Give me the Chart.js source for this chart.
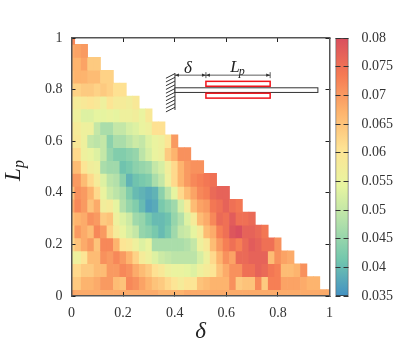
<!DOCTYPE html>
<html>
<head>
<meta charset="utf-8">
<script src="https://cdn.jsdelivr.net/npm/chart.js@4/dist/chart.umd.min.js"></script>
<style>
  html, body { margin: 0; background: #fff; }
  #wrap { position: relative; width: 415px; height: 364px; overflow: hidden; }
  canvas { position: absolute; top: 0; }
  #map { left: 0; }
  #bar { left: 330px; }
</style>
</head>
<body>
<div id="wrap">
  <canvas id="map" width="415" height="364"></canvas>
  <canvas id="bar" width="85" height="364"></canvas>
</div>
<script>
// ── DATA ───────────────────────────────────────────────────────
const FONT = "'Liberation Serif', serif";
const xTicks = [0, 0.2, 0.4, 0.6, 0.8, 1];
const yTicks = [0, 0.2, 0.4, 0.6, 0.8, 1];
const cbTicks = [0.035, 0.04, 0.045, 0.05, 0.055, 0.06, 0.065, 0.07, 0.075, 0.08];
const cbMin = 0.035, cbMax = 0.08;
const cellStep = 0.025;  // columns are delta = 0, 0.025, 0.05 ...

const lpRows = [1, 0.95, 0.9, 0.85, 0.8, 0.75, 0.7, 0.65, 0.6, 0.55, 0.5, 0.45, 0.4, 0.35, 0.3, 0.25, 0.2, 0.15, 0.1, 0.05, 0];

// one list per Lp row, first value at delta = 0
const row100 = [.072];
const row095 = [.068,.069,.070];
const row090 = [.067,.067,.069,.064,.064];
const row085 = [.066,.067,.067,.066,.066,.063,.063];
const row080 = [.063,.063,.064,.064,.063,.064,.063,.061,.061];
const row075 = [.059,.058,.059,.060,.059,.056,.060,.058,.058,.057,.059];
const row070 = [.056,.056,.053,.053,.054,.054,.055,.054,.056,.056,.057,.055,.059];
const row065 = [.059,.058,.056,.056,.050,.047,.047,.050,.050,.052,.053,.055,.056,.061,.061];
const row060 = [.059,.059,.056,.050,.049,.050,.044,.047,.047,.049,.051,.050,.053,.055,.056,.060,.070];
const row055 = [.062,.062,.056,.055,.053,.050,.045,.043,.043,.044,.045,.049,.052,.055,.056,.064,.067,.071,.071];
const row050 = [.066,.066,.060,.057,.056,.047,.046,.046,.041,.042,.044,.045,.046,.050,.052,.057,.062,.067,.070,.071,.071];
const row045 = [.070,.070,.066,.062,.058,.053,.049,.048,.044,.039,.041,.042,.043,.047,.050,.056,.062,.067,.070,.072,.073,.074,.075];
const row040 = [.065,.071,.070,.067,.062,.055,.051,.049,.047,.043,.040,.039,.038,.039,.044,.049,.054,.062,.066,.069,.072,.073,.076,.077,.077];
const row035 = [.068,.072,.070,.065,.068,.057,.058,.054,.048,.045,.043,.040,.037,.038,.042,.044,.046,.052,.058,.066,.069,.070,.074,.075,.077,.075,.074];
const row030 = [.065,.067,.068,.071,.070,.064,.065,.056,.053,.051,.046,.045,.042,.040,.040,.041,.045,.048,.053,.058,.066,.068,.072,.076,.075,.078,.075,.075,.076];
const row025 = [.063,.070,.068,.066,.072,.070,.063,.058,.055,.052,.050,.045,.044,.042,.040,.042,.046,.050,.051,.054,.058,.066,.068,.073,.075,.079,.080,.077,.077,.076,.074];
const row020 = [.062,.065,.068,.070,.065,.072,.072,.067,.060,.059,.056,.053,.055,.047,.047,.047,.047,.047,.048,.050,.056,.059,.066,.070,.073,.075,.073,.076,.078,.077,.075,.075,.071];
const row015 = [.056,.056,.060,.066,.066,.071,.070,.072,.070,.067,.063,.058,.056,.053,.051,.050,.049,.049,.049,.049,.052,.056,.062,.067,.071,.069,.076,.076,.077,.077,.077,.066,.071,.069,.068];
const row010 = [.062,.062,.064,.064,.066,.066,.070,.070,.072,.071,.068,.066,.064,.061,.059,.056,.055,.055,.054,.053,.056,.058,.060,.065,.068,.071,.071,.075,.075,.077,.076,.074,.073,.066,.066,.067,.071];
const row005 = [.064,.064,.067,.067,.068,.070,.070,.066,.065,.072,.071,.069,.067,.065,.064,.062,.060,.058,.060,.060,.065,.066,.067,.067,.067,.071,.064,.065,.065,.072,.064,.073,.073,.069,.069,.069,.068,.067,.067];
const row000 = [.069,.068,.068,.068,.068,.068,.068,.068,.068,.068,.068,.068,.068,.068,.067,.067,.067,.067,.068,.068,.068,.068,.068,.068,.068,.068,.068,.068,.068,.068,.068,.068,.068,.068,.068,.068,.068,.068,.068,.068,.068];

const cellRows = [row100, row095, row090, row085, row080, row075, row070, row065, row060, row055, row050,
  row045, row040, row035, row030, row025, row020, row015, row010, row005, row000];

// palette from cbMax down to cbMin
const paletteStops = ['#d94f5e', '#f57a53', '#fdb36d', '#fee394', '#e8f5a0', '#b2e0aa', '#73c7ad', '#4391c3'];

// ── COLOUR MAP ─────────────────────────────────────────────────
function hexRgb(h) {
  return [1, 3, 5].map(i => parseInt(h.slice(i, i + 2), 16));
}

function colorFor(v) {
  const t = Math.min(1, Math.max(0, (cbMax - v) / (cbMax - cbMin))) * (paletteStops.length - 1);
  const i = Math.min(paletteStops.length - 2, Math.floor(t));
  const a = hexRgb(paletteStops[i]), b = hexRgb(paletteStops[i + 1]);
  const f = t - i;
  return `rgb(${a.map((c, k) => Math.round(c + (b[k] - c) * f)).join(',')})`;
}

// ── INSET SKETCH (beam with patches), in axis units ────────────
const insetPlugin = {
  id: 'inset',
  afterDraw(chart) {
    const { ctx, scales } = chart;
    const X = v => scales.x.getPixelForValue(v);
    const Y = v => scales.y.getPixelForValue(v);
    const line = (x1, y1, x2, y2) => {
      ctx.beginPath(); ctx.moveTo(x1, y1); ctx.lineTo(x2, y2); ctx.stroke();
    };
    const wallX = 0.401, beamEnd = 0.955, patchA = 0.521, patchB = 0.77, dimY = 0.856;

    ctx.save();
    ctx.strokeStyle = '#333';
    ctx.lineWidth = 1;

    // wall and hatching
    line(X(wallX), Y(0.864), X(wallX), Y(0.721));
    for (let h = 0; h < 10; h++) {
      const hy = 0.862 - h * 0.0145;
      line(X(wallX), Y(hy), X(wallX - 0.035), Y(hy - 0.018));
    }

    // beam
    ctx.fillStyle = '#fff';
    ctx.fillRect(X(wallX), Y(0.807), X(beamEnd) - X(wallX), Y(0.789) - Y(0.807));
    ctx.strokeRect(X(wallX), Y(0.807), X(beamEnd) - X(wallX), Y(0.789) - Y(0.807));

    // patches
    ctx.strokeStyle = '#f0141c';
    ctx.lineWidth = 1.5;
    ctx.strokeRect(X(patchA), Y(0.832), X(patchB) - X(patchA), Y(0.813) - Y(0.832));
    ctx.strokeRect(X(patchA), Y(0.786), X(patchB) - X(patchA), Y(0.767) - Y(0.786));

    // dimension lines
    ctx.strokeStyle = '#333';
    ctx.fillStyle = '#333';
    ctx.lineWidth = 0.8;
    line(X(wallX), Y(dimY), X(patchB), Y(dimY));
    line(X(patchA), Y(dimY) - 3, X(patchA), Y(dimY) + 3);
    line(X(patchB), Y(dimY) - 3, X(patchB), Y(dimY) + 3);
    const head = (px, dir) => {
      const py = Y(dimY);
      ctx.beginPath();
      ctx.moveTo(px, py); ctx.lineTo(px + dir * 4, py - 1.6); ctx.lineTo(px + dir * 4, py + 1.6);
      ctx.closePath(); ctx.fill();
    };
    head(X(wallX), 1); head(X(patchA), -1); head(X(patchA), 1); head(X(patchB), -1);

    // labels
    ctx.fillStyle = '#222';
    ctx.textAlign = 'center';
    ctx.textBaseline = 'alphabetic';
    ctx.font = `italic 17px ${FONT}`;
    ctx.fillText('δ', X(0.451), Y(0.865));
    ctx.textAlign = 'left';
    ctx.fillText('L', X(0.615), Y(0.87));
    ctx.font = `italic 12px ${FONT}`;
    ctx.fillText('p', X(0.648), Y(0.855));

    // y axis title, drawn here for the subscript
    ctx.translate(20, 172);
    ctx.rotate(-Math.PI / 2);
    ctx.font = `italic 23px ${FONT}`;
    ctx.fillText('L', -9, 0);
    ctx.font = `italic 16px ${FONT}`;
    ctx.fillText('p', 4, 4);
    ctx.restore();
  }
};

// ── HEATMAP ────────────────────────────────────────────────────
const frameColor = '#555';
const axisFrame = { color: frameColor, width: 1.5, z: 2 };
const inTicks = { drawOnChartArea: false, drawTicks: true, tickLength: -4, color: '#222', z: 2, offset: false };
const tickFont = { family: FONT, size: 14 };
const tickText = v => String(v);

const mapDatasets = lpRows.map((lp, r) => ({
  data: cellRows[r].map((v, c) => ({ y: lp, x: [c * cellStep - cellStep / 2, c * cellStep + cellStep / 2] })),
  backgroundColor: cellRows[r].map(colorFor),
  borderWidth: 0,
  grouped: false,
  barPercentage: 1,
  categoryPercentage: 1,
}));

new Chart(document.getElementById('map'), {
  type: 'bar',
  data: { datasets: mapDatasets },
  options: {
    indexAxis: 'y',
    responsive: false,
    animation: false,
    layout: { padding: { left: 1.5, right: 85.5, top: 38, bottom: 18 } },
    plugins: { legend: { display: false }, tooltip: { enabled: false } },
    scales: {
      x: {
        type: 'linear', position: 'bottom', min: 0, max: 1, offset: false,
        grid: inTicks, border: axisFrame,
        afterBuildTicks: s => { s.ticks = xTicks.map(value => ({ value })); },
        afterFit: s => { s.height = 50; },
        ticks: { color: '#333', font: tickFont, padding: 13, maxRotation: 0, autoSkip: false, callback: tickText },
        title: { display: true, text: 'δ', color: '#222', font: { family: FONT, size: 23, style: 'italic' }, padding: 0 },
      },
      x2: {
        type: 'linear', position: 'top', min: 0, max: 1, offset: false,
        grid: inTicks, border: axisFrame,
        afterBuildTicks: s => { s.ticks = xTicks.map(value => ({ value })); },
        afterFit: s => { s.height = 0; },
        ticks: { display: false },
      },
      y: {
        type: 'linear', position: 'left', min: 0, max: 1, offset: false,
        grid: inTicks, border: axisFrame,
        afterBuildTicks: s => { s.ticks = yTicks.map(value => ({ value })); },
        afterFit: s => { s.width = 70; },
        ticks: { color: '#333', font: tickFont, padding: 13, autoSkip: false, callback: tickText },
      },
      y2: {
        type: 'linear', position: 'right', min: 0, max: 1, offset: false,
        grid: inTicks, border: axisFrame,
        afterBuildTicks: s => { s.ticks = yTicks.map(value => ({ value })); },
        afterFit: s => { s.width = 0; },
        ticks: { display: false },
      },
    },
  },
  plugins: [insetPlugin],
});

// ── COLOUR BAR ─────────────────────────────────────────────────
function barGradient(ctx) {
  const { chart } = ctx;
  if (!chart.chartArea) return paletteStops[0];
  const g = chart.ctx.createLinearGradient(0, chart.chartArea.top, 0, chart.chartArea.bottom);
  paletteStops.forEach((c, i) => g.addColorStop(i / (paletteStops.length - 1), c));
  return g;
}

new Chart(document.getElementById('bar'), {
  type: 'bar',
  data: {
    labels: ['cb'],
    datasets: [{
      data: [[cbMin, cbMax]],
      backgroundColor: barGradient,
      borderColor: '#333',
      borderWidth: 1,
      borderSkipped: false,
      barPercentage: 1,
      categoryPercentage: 1,
    }],
  },
  options: {
    responsive: false,
    animation: false,
    layout: { padding: { left: 5.5, right: 0, top: 38, bottom: 68 } },
    plugins: { legend: { display: false }, tooltip: { enabled: false } },
    scales: {
      x: { display: false },
      y: {
        type: 'linear', position: 'right', min: cbMin, max: cbMax,
        grid: { drawOnChartArea: true, drawTicks: false, color: '#333', z: 2, lineWidth: 1 },
        border: { display: false, dash: [5, 3] },
        afterBuildTicks: s => { s.ticks = cbTicks.map(value => ({ value })); },
        afterFit: s => { s.width = 66.5; },
        ticks: { color: '#333', font: tickFont, padding: 13, autoSkip: false, callback: v => String(+v.toFixed(3)) },
      },
    },
  },
});
</script>
</body>
</html>
